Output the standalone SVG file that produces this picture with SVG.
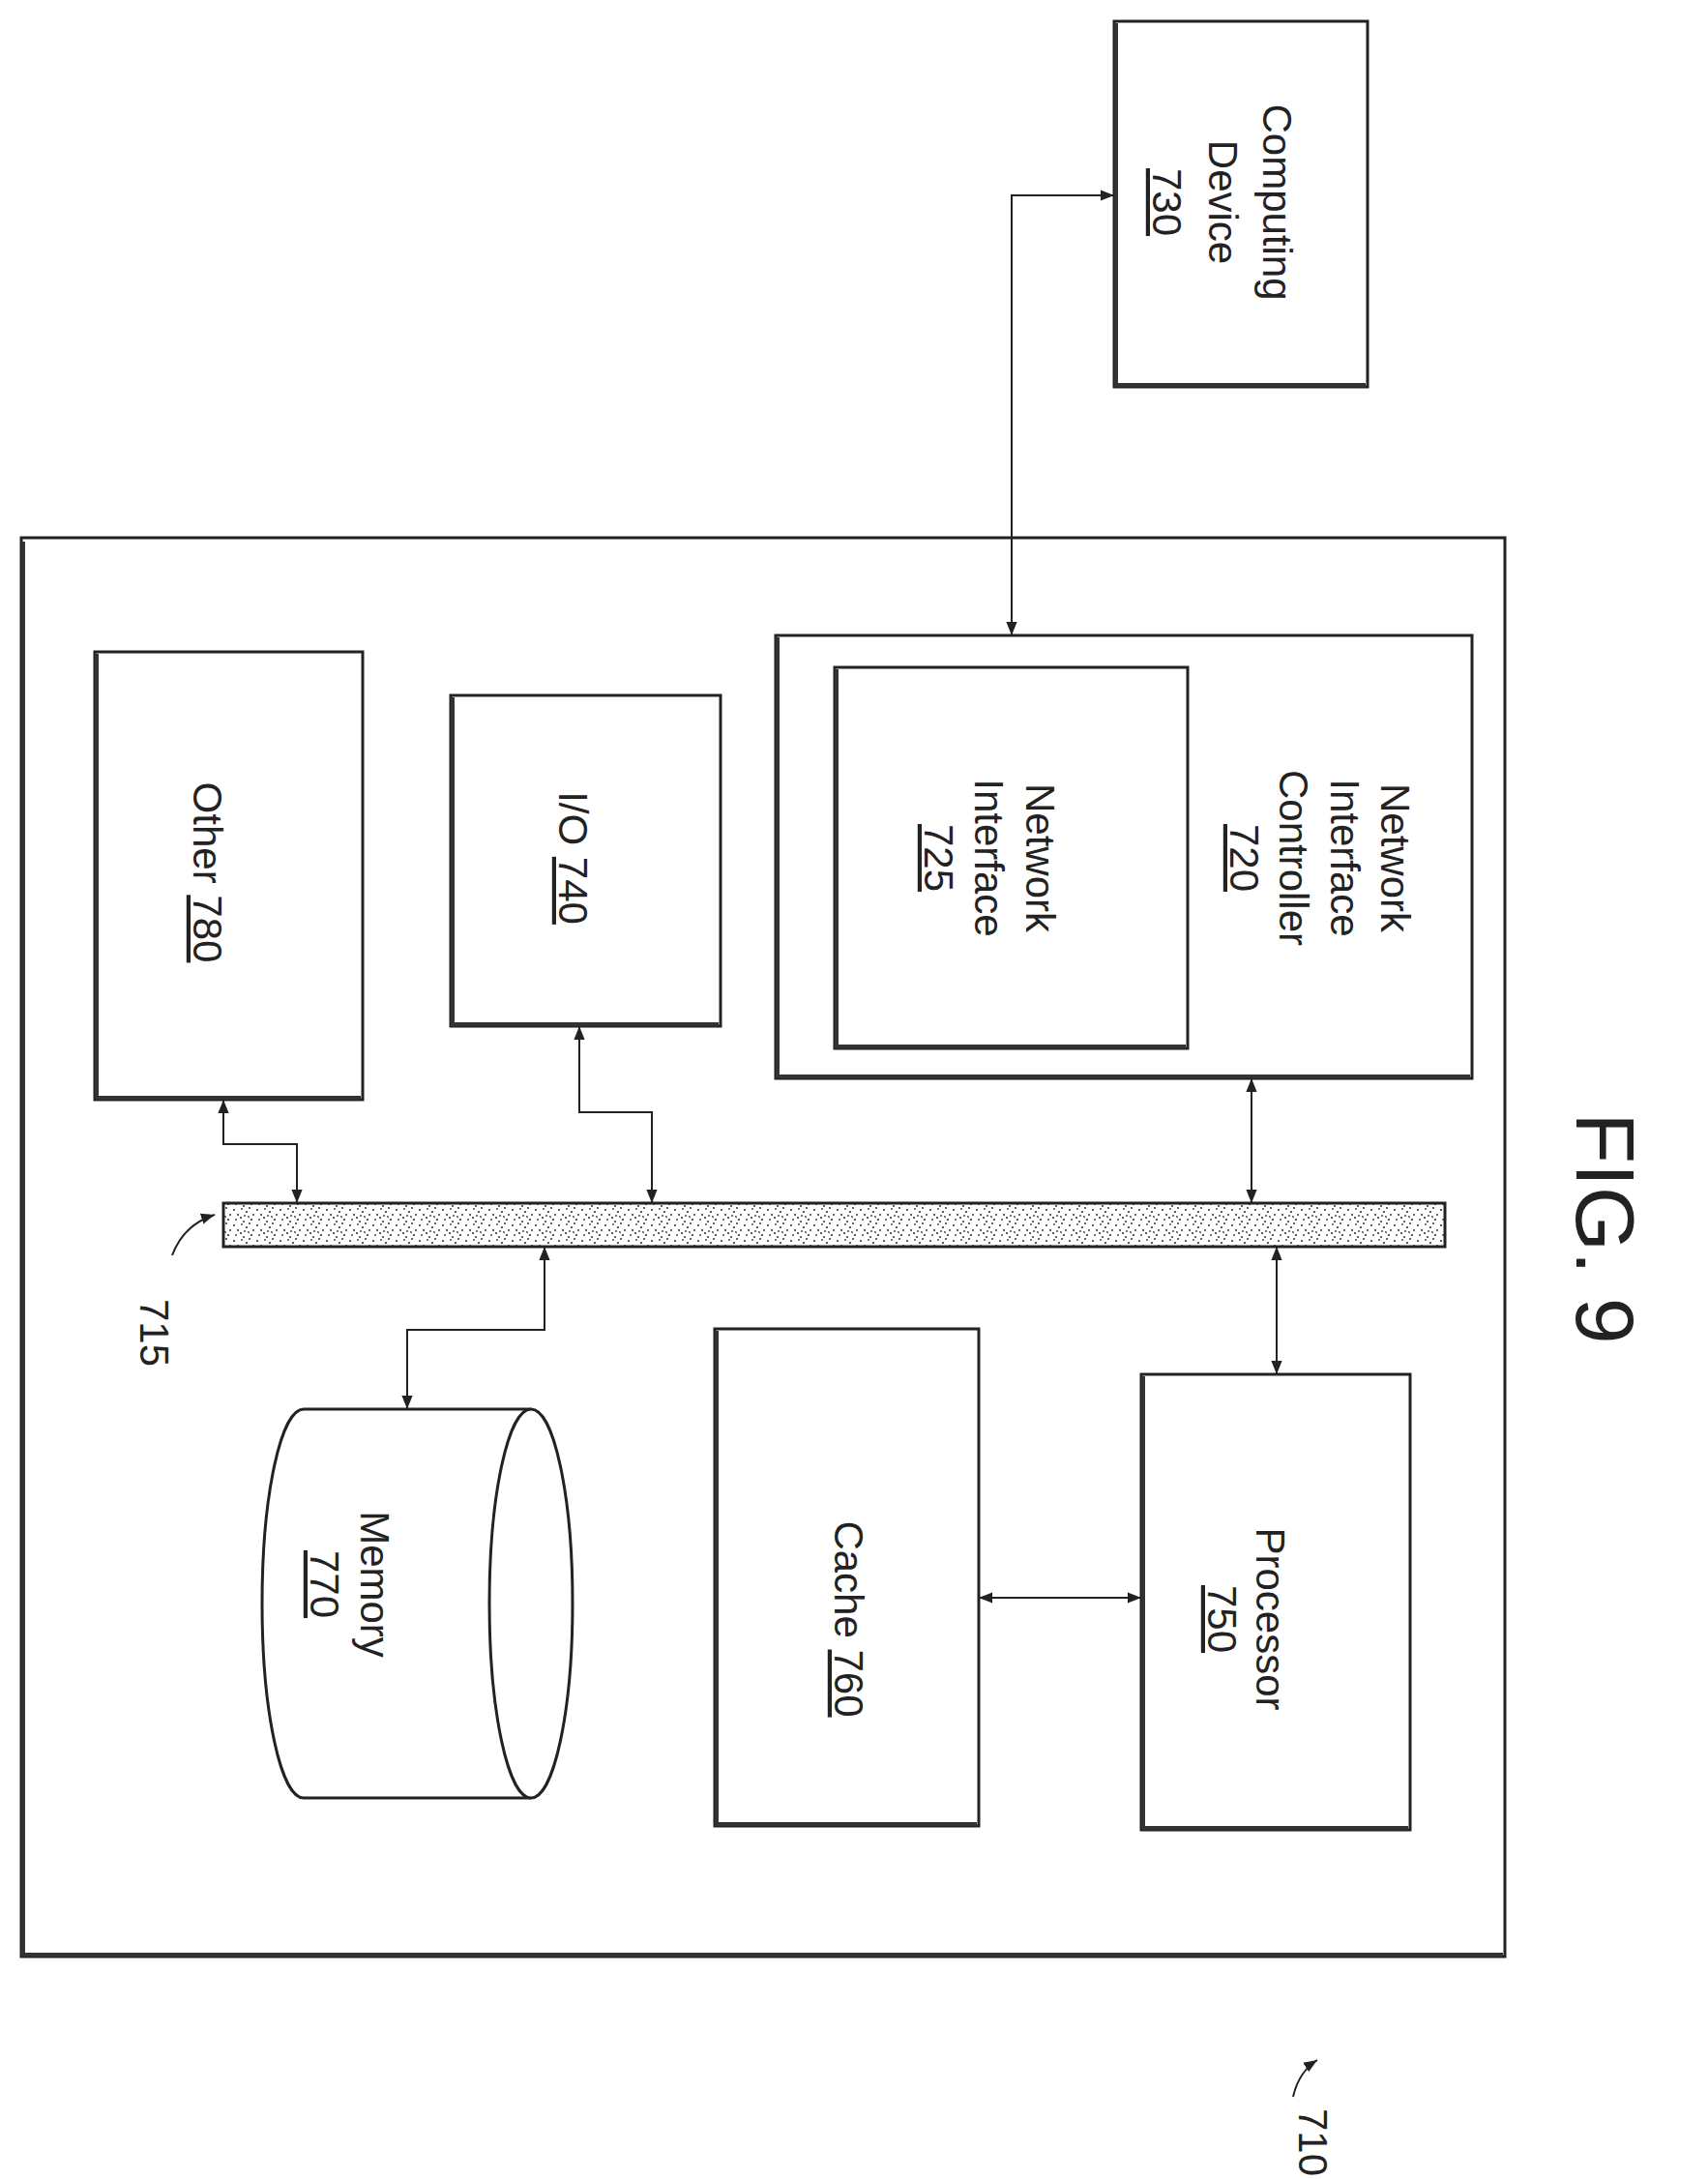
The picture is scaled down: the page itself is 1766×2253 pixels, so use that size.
<svg xmlns="http://www.w3.org/2000/svg" width="1766" height="2253" viewBox="0 0 1766 2253">
<style>
.b{fill:#fff;stroke:#222;stroke-width:3}
.s{fill:none;stroke:#333;stroke-width:4}
.c{fill:none;stroke:#222;stroke-width:2}
.t{font-family:"Liberation Sans",Arial,sans-serif;font-size:42px;fill:#222;text-anchor:middle}
.u{text-decoration:underline}
</style>
<defs>
<marker id="a" viewBox="0 0 10 10" refX="10" refY="5" markerWidth="14" markerHeight="14" markerUnits="userSpaceOnUse" orient="auto-start-reverse"><path d="M0,1 L10,5 L0,9 z" fill="#222"/></marker>
<pattern id="d" width="24" height="16" patternUnits="userSpaceOnUse">
<rect width="24" height="16" fill="#fff"/>
<g fill="#333"><circle cx="2" cy="3" r="1.1"/><circle cx="9" cy="11" r="1.1"/><circle cx="15" cy="5" r="1.1"/><circle cx="20" cy="13" r="1.1"/><circle cx="6" cy="8" r="1"/><circle cx="18" cy="1" r="1"/><circle cx="12" cy="15" r="1"/><circle cx="22" cy="8" r="1"/><circle cx="4" cy="13" r="0.9"/><circle cx="13" cy="9" r="0.9"/><circle cx="10" cy="2" r="0.9"/><circle cx="17" cy="10" r="0.9"/></g>
</pattern>
</defs>
<g id="n710"><rect class="b" x="22" y="556" width="1534" height="1467"/><path class="s" d="M24,560 V2021 H1554"/>
<text class="t" transform="translate(1343,2215) rotate(90)">710</text><path class="c" d="M1337,2168 Q1343,2142 1362,2130" marker-end="url(#a)"/></g>
<g id="n730"><rect class="b" x="1152" y="22" width="262" height="378"/><path class="s" d="M1154,24 V398 H1412"/>
<text class="t" transform="translate(1306,209) rotate(90)">Computing</text>
<text class="t" transform="translate(1250,209) rotate(90)">Device</text>
<text class="t" transform="translate(1192,209) rotate(90)"><tspan class="u">730</tspan></text></g>
<g id="n720"><rect class="b" x="802" y="657" width="720" height="458"/><path class="s" d="M804,659 V1113 H1520"/>
<text class="t" transform="translate(1428,887) rotate(90)">Network</text>
<text class="t" transform="translate(1376,887) rotate(90)">Interface</text>
<text class="t" transform="translate(1323,887) rotate(90)">Controller</text>
<text class="t" transform="translate(1272,887) rotate(90)"><tspan class="u">720</tspan></text></g>
<g id="n725"><rect class="b" x="863" y="690" width="365" height="394"/><path class="s" d="M865,692 V1082 H1226"/>
<text class="t" transform="translate(1061,887) rotate(90)">Network</text>
<text class="t" transform="translate(1008,887) rotate(90)">Interface</text>
<text class="t" transform="translate(956,887) rotate(90)"><tspan class="u">725</tspan></text></g>
<g id="n780"><rect class="b" x="98" y="674" width="277" height="463"/><path class="s" d="M100,676 V1135 H373"/>
<text class="t" transform="translate(200,902) rotate(90)">Other <tspan class="u">780</tspan></text></g>
<g id="n740"><rect class="b" x="466" y="719" width="279" height="342"/><path class="s" d="M468,721 V1059 H743"/>
<text class="t" transform="translate(578,887) rotate(90)">I/O <tspan class="u">740</tspan></text></g>
<g id="n715"><rect x="231" y="1244" width="1263" height="45" fill="url(#d)" stroke="#222" stroke-width="3"/>
<text class="t" transform="translate(145,1378) rotate(90)">715</text><path class="c" d="M178,1298 Q190,1266 222,1256" marker-end="url(#a)"/></g>
<g id="n760"><rect class="b" x="739" y="1374" width="273" height="514"/><path class="s" d="M741,1376 V1886 H1010"/>
<text class="t" transform="translate(863,1674) rotate(90)">Cache  <tspan class="u">760</tspan></text></g>
<g id="n750"><rect class="b" x="1180" y="1421" width="278" height="471"/><path class="s" d="M1182,1423 V1890 H1456"/>
<text class="t" transform="translate(1299,1674) rotate(90)">Processor</text>
<text class="t" transform="translate(1249,1674) rotate(90)"><tspan class="u">750</tspan></text></g>
<g id="n770"><path class="b" d="M549,1457 H314 A43,201 0 0 0 314,1859 H549"/>
<ellipse class="b" cx="549" cy="1658" rx="43" ry="201"/>
<text class="t" transform="translate(373,1638) rotate(90)">Memory</text>
<text class="t" transform="translate(321,1638) rotate(90)"><tspan class="u">770</tspan></text></g>
<g id="connectors" class="c" marker-end="url(#a)" marker-start="url(#a)">
<path d="M1152,202 H1046 V657"/>
<path d="M1294,1115 V1244"/>
<path d="M1320,1289 V1421"/>
<path d="M1012,1652 H1180"/>
<path d="M599,1061 V1150 H674 V1244"/>
<path d="M231,1137 V1183 H307 V1244"/>
<path d="M563,1289 V1375 H421 V1457"/>
</g>
<text class="t" style="font-size:86px" transform="translate(1630,1270) rotate(90)">FIG. 9</text>
</svg>
